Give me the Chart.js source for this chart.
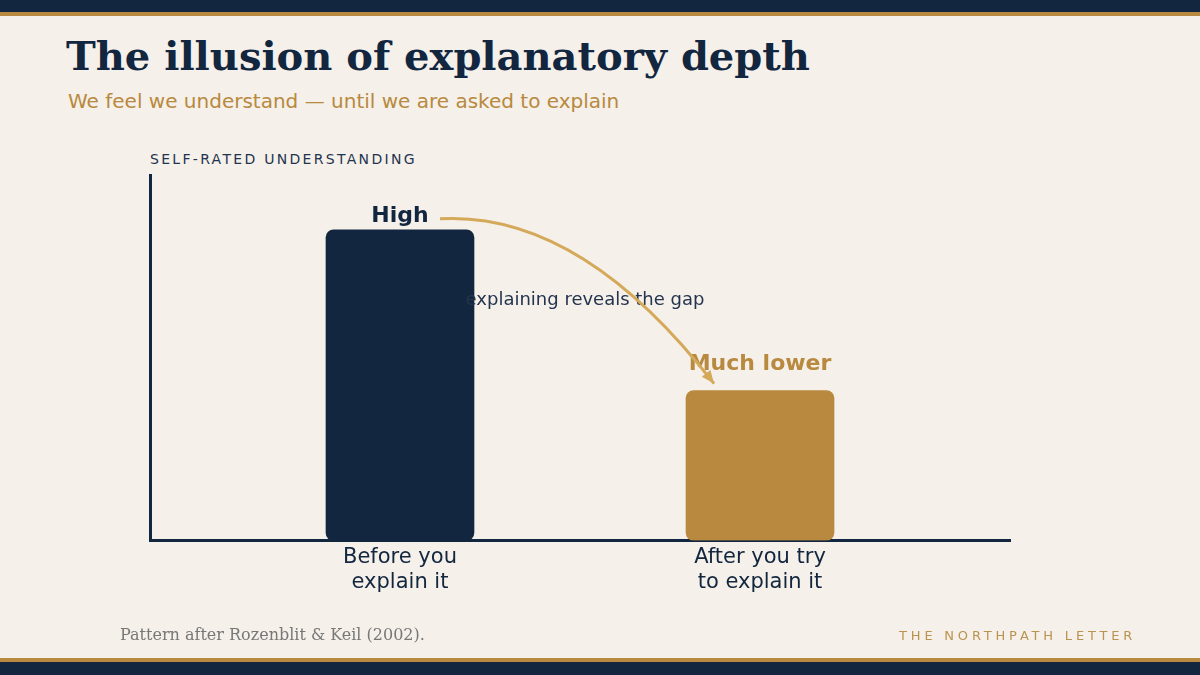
<!DOCTYPE html>
<html>
<head>
<meta charset="utf-8">
<script src="https://cdn.jsdelivr.net/npm/chart.js@4"></script>
<style>
  html, body { margin: 0; padding: 0; }
  body { width: 1200px; height: 675px; background: #f5f0e9; position: relative; overflow: hidden; font-family: "DejaVu Sans", sans-serif; }
  .band-top { position: absolute; left: 0; top: 0; width: 1200px; height: 12px; background: #12263f; border-bottom: 4px solid #b8893e; }
  .band-bottom { position: absolute; left: 0; bottom: 0; width: 1200px; height: 13px; background: #12263f; border-top: 4px solid #b8893e; }
  h1 { position: absolute; left: 66px; top: 32px; margin: 0; font-family: "DejaVu Serif", serif; font-weight: bold; font-size: 40px; color: #12263f; }
  .sub { position: absolute; left: 68px; top: 89px; font-family: "DejaVu Sans", sans-serif; font-size: 20px; color: #b8893e; }
  .ytitle { position: absolute; left: 150px; top: 151px; font-family: "DejaVu Sans", sans-serif; font-size: 14px; letter-spacing: 2.3px; color: #24344f; }
  .source { position: absolute; left: 120px; top: 625px; font-family: "DejaVu Serif", serif; font-size: 16px; color: #777; }
  .brand { position: absolute; right: 64px; top: 628px; font-family: "DejaVu Sans", sans-serif; font-size: 13px; letter-spacing: 3.8px; color: #bb9350; }
  #wrap { position: absolute; left: 0; top: 0; width: 1200px; height: 675px; }
</style>
</head>
<body>
<div class="band-top"></div>
<h1>The illusion of explanatory depth</h1>
<div class="sub">We feel we understand — until we are asked to explain</div>
<div class="ytitle">SELF-RATED UNDERSTANDING</div>
<div id="wrap"><canvas id="chart"></canvas></div>
<div class="source">Pattern after Rozenblit &amp; Keil (2002).</div>
<div class="brand">THE NORTHPATH LETTER</div>
<div class="band-bottom"></div>

<script>
const categories = [['Before you', 'explain it'], ['After you try', 'to explain it']];
const positions = [0, 1];
const values = [85, 41];
const barLabels = ['High', 'Much lower'];
const barColors = ['#12263f', '#b8893e'];
const labelColors = ['#12263f', '#b8893e'];
const note = 'explaining reveals the gap';

// etiquetas acima das barras + seta curva
const annotations = {
  id: 'annotations',
  afterDatasetsDraw(chart) {
    const ctx = chart.ctx;
    const bars = chart.getDatasetMeta(0).data;
    const gaps = [3, 15];
    ctx.save();
    ctx.font = 'bold 22px "DejaVu Sans"';
    ctx.textAlign = 'center';
    ctx.textBaseline = 'bottom';
    bars.forEach((b, i) => {
      ctx.fillStyle = labelColors[i];
      ctx.fillText(barLabels[i], b.x, b.y - gaps[i]);
    });

    ctx.font = '18px "DejaVu Sans"';
    ctx.fillStyle = '#24344f';
    ctx.textBaseline = 'middle';
    ctx.fillText(note, (bars[0].x + bars[1].x) / 2 + 5, 300);

    // seta
    const sx = bars[0].x + 40, sy = bars[0].y - 11;
    const ex = bars[1].x - 46, ey = bars[1].y - 7;
    const cx = sx + 140, cy = sy - 8;
    ctx.strokeStyle = '#d4a95a';
    ctx.lineWidth = 3;
    ctx.beginPath();
    ctx.moveTo(sx, sy);
    ctx.quadraticCurveTo(cx, cy, ex, ey);
    ctx.stroke();
    const ang = Math.atan2(ey - cy, ex - cx);
    ctx.fillStyle = '#d4a95a';
    ctx.beginPath();
    ctx.moveTo(ex, ey);
    ctx.lineTo(ex - 14 * Math.cos(ang - 0.4), ey - 14 * Math.sin(ang - 0.4));
    ctx.lineTo(ex - 14 * Math.cos(ang + 0.4), ey - 14 * Math.sin(ang + 0.4));
    ctx.closePath();
    ctx.fill();
    ctx.restore();
  }
};

new Chart(document.getElementById('chart').getContext('2d'), {
  type: 'bar',
  data: {
    datasets: [{
      data: positions.map((p, i) => ({ x: p, y: values[i] })),
      backgroundColor: barColors,
      borderRadius: 8,
      borderSkipped: false,
      barThickness: 148
    }]
  },
  options: {
    responsive: true,
    maintainAspectRatio: false,
    animation: false,
    layout: { padding: { left: 150, right: 190, top: 175, bottom: 75 } },
    plugins: { legend: { display: false }, tooltip: { enabled: false } },
    scales: {
      x: {
        type: 'linear',
        min: -0.6944,
        max: 1.6944,
        offset: false,
        grid: { display: false, drawTicks: false },
        border: { display: true, color: '#12263f', width: 3 },
        ticks: {
          stepSize: 1,
          includeBounds: false,
          padding: 5,
          color: '#12263f',
          font: { family: 'DejaVu Sans', size: 21, lineHeight: 1.18 },
          callback: (v) => positions.includes(v) ? categories[v] : ''
        }
      },
      y: {
        min: 0,
        max: 100,
        grid: { display: false, drawTicks: false },
        border: { display: true, color: '#12263f', width: 3 },
        ticks: { display: false }
      }
    }
  },
  plugins: [annotations]
});
</script>
</body>
</html>
